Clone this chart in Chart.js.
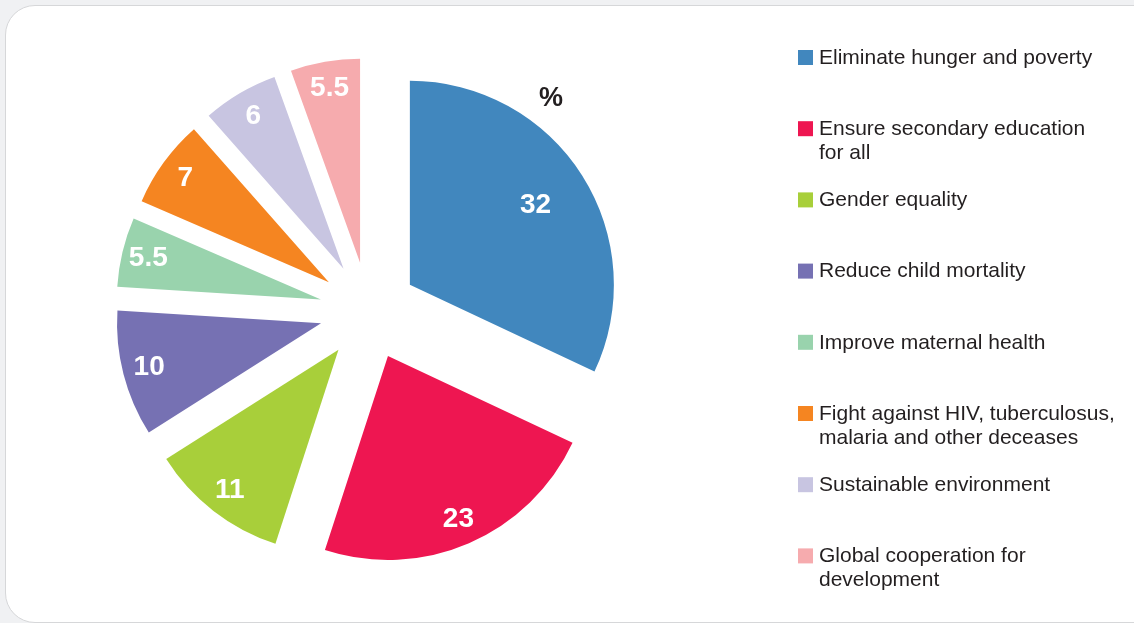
<!DOCTYPE html>
<html>
<head>
<meta charset="utf-8">
<script src="https://cdn.jsdelivr.net/npm/chart.js@4.4.1/dist/chart.umd.min.js"></script>
<style>
    html, body { margin: 0; padding: 0; background: #f0f1f3; overflow: hidden; }
    #card {
        position: absolute; left: 5px; top: 5px; width: 1200px; height: 616px;
        background: #fff; border: 1px solid #d6d7d9; border-radius: 30px;
    }
    #wrap { position: absolute; left: 0; top: 0; width: 1134px; height: 623px; }
</style>
</head>
<body>
<div id="card"></div>
<div id="wrap"><canvas id="myChart" width="1134" height="623"></canvas></div>
<script>
var labels = [
    ["Eliminate hunger and poverty"],
    ["Ensure secondary education", "for all"],
    ["Gender equality"],
    ["Reduce child mortality"],
    ["Improve maternal health"],
    ["Fight against HIV, tuberculosus,", "malaria and other deceases"],
    ["Sustainable environment"],
    ["Global cooperation for", "development"]
];
var values = [32, 23, 11, 10, 5.5, 7, 6, 5.5];
var colors = ["#4187be", "#ee1651", "#a8cf3a", "#7671b3", "#99d3ad", "#f58521", "#c8c5e1", "#f6abae"];
var unitLabel = "%";

var textColor = "#231f20";
var explode = 49;

// push every slice out from the centre along its middle angle
var explodePlugin = {
    id: "explode",
    afterDatasetUpdate: function (chart, args) {
        args.meta.data.forEach(function (arc) {
            var mid = (arc.startAngle + arc.endAngle) / 2;
            arc.x += Math.cos(mid) * explode;
            arc.y += Math.sin(mid) * explode;
        });
    }
};

var textPlugin = {
    id: "texts",
    afterDraw: function (chart) {
        var c = chart.ctx;
        var meta = chart.getDatasetMeta(0);
        c.save();
        // values in the slices
        c.fillStyle = "#fff";
        c.font = "bold 28px 'Liberation Sans', Arial, sans-serif";
        c.textAlign = "center";
        c.textBaseline = "middle";
        meta.data.forEach(function (arc, i) {
            var mid = (arc.startAngle + arc.endAngle) / 2;
            var r = arc.outerRadius * (values[i] > 25 ? 0.73 : 0.87);
            c.fillText(String(values[i]), arc.x + Math.cos(mid) * r, arc.y + Math.sin(mid) * r);
        });
        // unit
        c.fillStyle = textColor;
        c.font = "bold 27px 'Liberation Sans', Arial, sans-serif";
        c.fillText(unitLabel, 551, 99);
        // legend
        c.font = "21px 'Liberation Sans', Arial, sans-serif";
        c.textAlign = "left";
        labels.forEach(function (lines, i) {
            var y = 57 + i * 71.2;
            c.fillStyle = colors[i];
            c.fillRect(798, y - 7, 15, 15);
            c.fillStyle = textColor;
            lines.forEach(function (line, j) {
                c.fillText(line, 819, y + 1 + j * 24);
            });
        });
        c.restore();
    }
};

var ctx = document.getElementById("myChart");
var myChart = new Chart(ctx, {
    type: 'pie',
    data: {
        labels: labels.map(function (l) { return l.join(" "); }),
        datasets: [{
            data: values,
            backgroundColor: colors,
            borderWidth: 0
        }]
    },
    options: {
        responsive: false,
        animation: false,
        radius: 204,
        layout: { padding: { left: 0, right: 397, top: 0, bottom: 1 } },
        plugins: {
            legend: { display: false },
            tooltip: { enabled: false }
        }
    },
    plugins: [explodePlugin, textPlugin]
});
</script>
</body>
</html>
